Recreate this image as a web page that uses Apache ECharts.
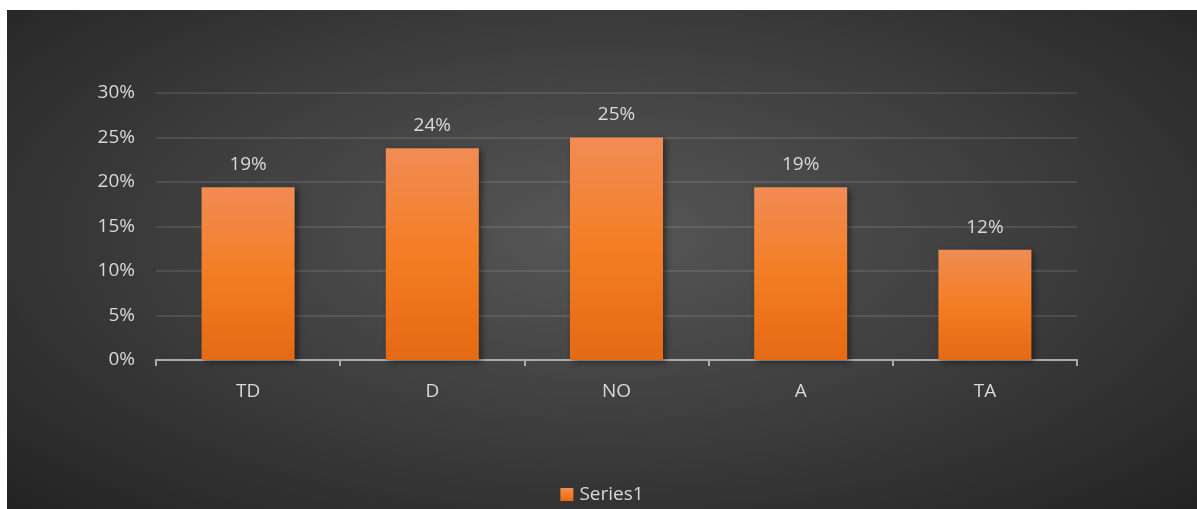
<!DOCTYPE html>
<html>
<head>
<meta charset="utf-8">
<script src="https://cdn.jsdelivr.net/npm/echarts@6/dist/echarts.min.js"></script>
<style>
html,body{margin:0;padding:0;background:#fff;width:1197px;height:509px;overflow:hidden;}
#chart{position:absolute;left:7px;top:10px;width:1190px;height:499px;
background:radial-gradient(ellipse farthest-corner at 50% 45%, #575757 0%, #3b3b3b 55%, #232323 100%);}
</style>
</head>
<body>
<div id="chart"></div>
<script>
const categories = ['TD', 'D', 'NO', 'A', 'TA'];
const seriesName = 'Series1';
const values = [0.194, 0.238, 0.25, 0.194, 0.124];
const yTicks = { min: 0, max: 0.3, interval: 0.05 };

const font = "'Open Sans', 'Liberation Sans', sans-serif";
const txt = '#d9d9d9';
const fs = 19;
const chart = echarts.init(document.getElementById('chart'), null, { renderer: 'canvas' });
chart.setOption({
  backgroundColor: 'transparent',
  animation: false,
  grid: { left: 149, right: 120, top: 83, bottom: 149, containLabel: false },
  legend: {
    data: [seriesName], bottom: 0, left: 'center',
    itemWidth: 13, itemHeight: 13, icon: 'rect', itemGap: 4,
    textStyle: { color: txt, fontSize: fs, fontFamily: font, padding: [0,0,0,1] }
  },
  xAxis: {
    type: 'category', data: categories,
    axisLine: { lineStyle: { color: '#ababab', width: 2 } },
    axisTick: { show: true, alignWithLabel: false, length: 6, lineStyle: { color: '#ababab', width: 2 } },
    axisLabel: { color: txt, fontSize: fs, fontFamily: font, margin: 22 }
  },
  yAxis: {
    type: 'value', min: yTicks.min, max: yTicks.max, interval: yTicks.interval,
    axisLine: { show: false }, axisTick: { show: false },
    axisLabel: { color: txt, fontSize: fs, fontFamily: font, margin: 21,
      formatter: v => Math.round(v * 100) + '%' },
    splitLine: { lineStyle: { color: 'rgba(255,255,255,0.1)', width: 2 } }
  },
  series: [{
    name: seriesName, type: 'bar', data: values, barWidth: '50.5%',
    itemStyle: {
      color: new echarts.graphic.LinearGradient(0, 0, 0, 1, [
        { offset: 0, color: '#f18c55' },
        { offset: 0.5, color: '#f47d23' },
        { offset: 1, color: '#e46a15' }
      ]),
      shadowColor: 'rgba(0,0,0,0.45)', shadowBlur: 6, shadowOffsetX: 3, shadowOffsetY: 2
    },
    label: {
      show: true, position: 'top', distance: 13, color: txt, fontSize: fs, fontFamily: font,
      formatter: p => Math.round(p.value * 100) + '%'
    }
  }]
});
</script>
</body>
</html>
